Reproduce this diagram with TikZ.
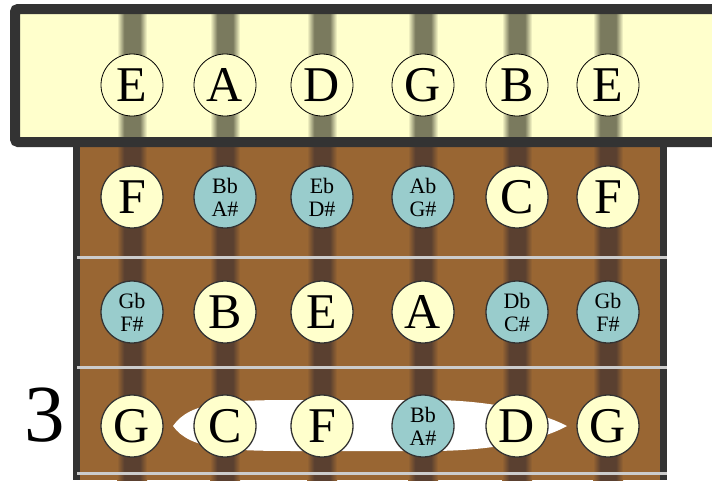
\documentclass[tikz,border=0pt]{standalone}
\usepackage{fontspec}
\setmainfont{Liberation Serif}
\definecolor{nutc}{HTML}{FFFFCC}
\definecolor{nuts}{HTML}{7A7A5E}
\definecolor{fbbrown}{HTML}{996633}
\definecolor{fbs}{HTML}{5A4030}
\definecolor{bordc}{HTML}{333333}
\definecolor{fretc}{HTML}{CCCCCC}
\definecolor{sharpc}{HTML}{99CCCC}
\definecolor{natc}{HTML}{FFFFCC}
\pgfdeclarehorizontalshading{nutstr}{100bp}{color(0bp)=(nutc); color(25bp)=(nutc); color(37bp)=(nuts); color(63bp)=(nuts); color(75bp)=(nutc); color(100bp)=(nutc)}
\pgfdeclarehorizontalshading{fbstr}{100bp}{color(0bp)=(fbbrown); color(25bp)=(fbbrown); color(37bp)=(fbs); color(63bp)=(fbs); color(75bp)=(fbbrown); color(100bp)=(fbbrown)}
\begin{document}
\begin{tikzpicture}[x=1pt,y=-1pt,
  opennote/.style={circle, draw=black, line width=0.8pt, fill=nutc, minimum size=62pt, inner sep=0pt, font=\fontsize{50}{50}\selectfont},
  natnote/.style={circle, draw=bordc, line width=1.3pt, fill=natc, minimum size=62pt, inner sep=0pt, font=\fontsize{50}{50}\selectfont},
  sharpnote/.style={circle, draw=bordc, line width=1.3pt, fill=sharpc, minimum size=62pt, inner sep=0pt, align=center, font=\fontsize{22}{23}\selectfont},
  fretline/.style={draw=fretc, line width=3pt}]
\useasboundingbox (0,0) rectangle (712,480);
\clip (0,0) rectangle (712,480);
\fill[white] (0,0) rectangle (712,480);
% fretboard
\fill[fbbrown] (76,147) rectangle (663,480);
% nut
\fill[nutc] (15,9) rectangle (730,142);
% strings
\foreach \x in {132,225,322,423,517,608} {
  \shade[shading=nutstr] (\x-15,9) rectangle (\x+15,142);
  \shade[shading=fbstr] (\x-15,142) rectangle (\x+15,480);
}
\draw[line width=10pt, bordc, rounded corners=3pt] (15,9) rectangle (730,142);
\draw[line width=7pt, bordc] (76.5,147) -- (76.5,480);
\draw[line width=7pt, bordc] (663.5,147) -- (663.5,480);
% frets
\draw[fretline] (77,257) -- (667,257);
\draw[fretline] (77,367) -- (667,367);
\draw[fretline] (77,473) -- (667,473);
% highlight lens
\fill[white] (173,426) .. controls (190,401) and (230,400) .. (300,400)
  -- (430,400) .. controls (490,400) and (540,412) .. (567,426)
  .. controls (540,441) and (490,451) .. (430,451)
  -- (300,451) .. controls (230,451) and (190,450) .. (173,426) -- cycle;
% fret number
\node[inner sep=0pt, font=\fontsize{81}{81}\selectfont] (fretnum) at (45,415) {3};
% open strings
\node[opennote] (o1) at (132,85) {E};
\node[opennote] (o2) at (225,85) {A};
\node[opennote] (o3) at (322,85) {D};
\node[opennote] (o4) at (423,85) {G};
\node[opennote] (o5) at (517,85) {B};
\node[opennote] (o6) at (608,85) {E};
% fret 1
\node[natnote] (a1) at (132,197) {F};
\node[sharpnote] (a2) at (225,197) {Bb\\A\#};
\node[sharpnote] (a3) at (322,197) {Eb\\D\#};
\node[sharpnote] (a4) at (423,197) {Ab\\G\#};
\node[natnote] (a5) at (517,197) {C};
\node[natnote] (a6) at (608,197) {F};
% fret 2
\node[sharpnote] (b1) at (132,312) {Gb\\F\#};
\node[natnote] (b2) at (225,312) {B};
\node[natnote] (b3) at (322,312) {E};
\node[natnote] (b4) at (423,312) {A};
\node[sharpnote] (b5) at (517,312) {Db\\C\#};
\node[sharpnote] (b6) at (608,312) {Gb\\F\#};
% fret 3
\node[natnote] (c1) at (132,426) {G};
\node[natnote] (c2) at (225,426) {C};
\node[natnote] (c3) at (322,426) {F};
\node[sharpnote] (c4) at (423,426) {Bb\\A\#};
\node[natnote] (c5) at (517,426) {D};
\node[natnote] (c6) at (608,426) {G};
\end{tikzpicture}
\end{document}
